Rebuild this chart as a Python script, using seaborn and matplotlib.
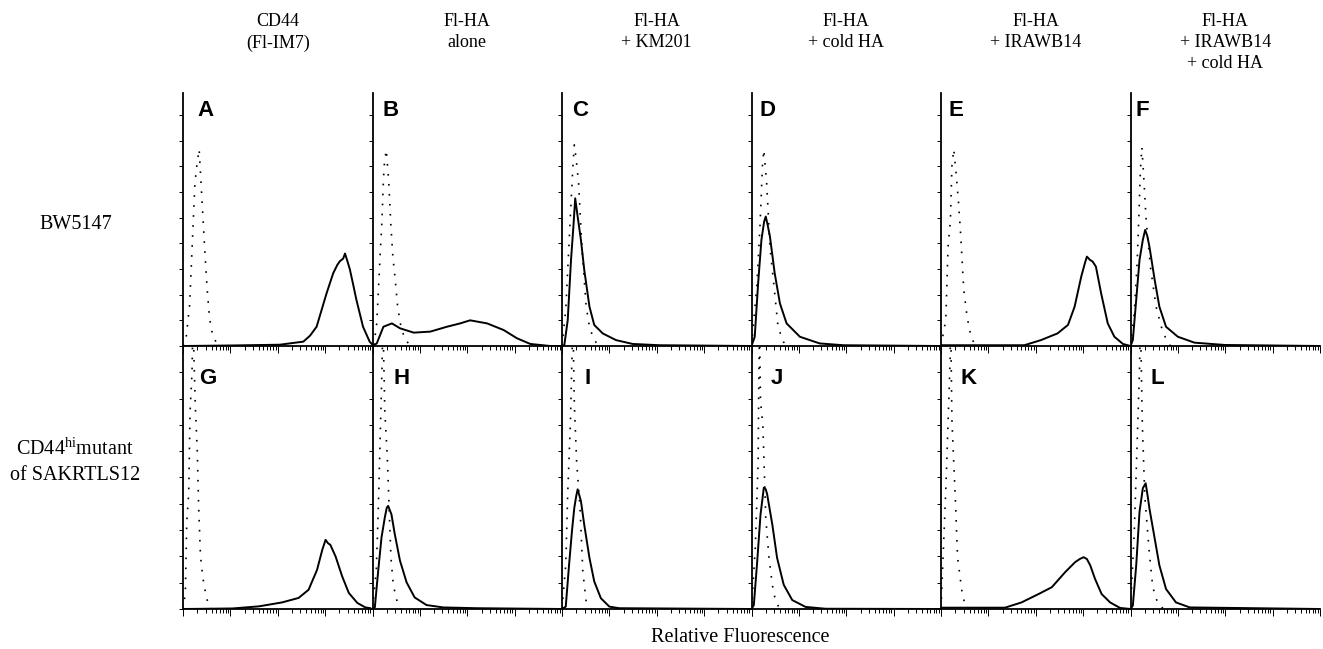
import numpy as np
import pandas as pd
import matplotlib.pyplot as plt
import matplotlib.ticker as mticker
import seaborn as sns

# Column headers / panel letters
headers = ["CD44\n(Fl-IM7)", "Fl-HA\nalone", "Fl-HA\n+ KM201",
           "Fl-HA\n+ cold HA", "Fl-HA\n+ IRAWB14", "Fl-HA\n+ IRAWB14\n+ cold HA"]
row_labels = ["BW5147", "of SAKRTLS12"]
letters = list("ABCDEFGHIJKL")

# Histograms: fluorescence (log axis) vs. cell count (tick units)
# *_fl / *_cnt = stained sample (solid), *_cfl / *_ccnt = control (dotted)
A_fl = [1, 10, 110, 347, 479, 661, 1072, 1479, 1800, 2042, 2400, 2630, 2900, 3311, 3900, 4571, 6310, 8710, 10000]
A_cnt = [0, 0.02, 0.05, 0.17, 0.4, 0.75, 2.05, 2.83, 3.15, 3.3, 3.4, 3.6, 3.35, 3.0, 2.4, 1.8, 0.75, 0.17, 0.05]
A_cfl = [1, 1.17, 1.38, 1.78, 1.95, 2.19, 2.88, 3.24, 3.63, 4.27, 5.5]
A_ccnt = [0, 0.36, 1.6, 6.3, 7.0, 7.66, 3.74, 2.2, 1.08, 0.36, 0.04]

B_fl = [1, 1.23, 1.7, 2.57, 3.8, 7.41, 16.6, 37.2, 70.8, 115, 263, 589, 1122, 2138, 5623, 10000]
B_cnt = [0, 0.1, 0.75, 0.88, 0.69, 0.52, 0.56, 0.75, 0.88, 1.0, 0.88, 0.62, 0.3, 0.08, 0, 0]
B_cfl = [1.07, 1.23, 1.45, 1.58, 1.7, 1.78, 1.95, 2.19, 2.45, 2.69, 3.02, 3.39, 3.98, 4.9, 6.31]
B_ccnt = [0.04, 0.88, 3.55, 4.84, 6.47, 7.1, 7.64, 6.47, 4.65, 3.48, 2.57, 1.53, 0.75, 0.23, 0.04]

C_fl = [1, 1.12, 1.32, 1.55, 1.74, 1.9, 2.14, 2.51, 2.95, 3.8, 4.79, 7.24, 13.8, 30.9, 115, 10000]
C_cnt = [0, 0.04, 1.0, 3.35, 4.65, 5.75, 5.04, 4.13, 2.96, 1.53, 0.82, 0.49, 0.23, 0.08, 0.03, 0]
C_cfl = [1, 1.2, 1.55, 1.7, 1.82, 2.0, 2.24, 2.63, 3.24, 3.8, 4.47, 5.62]
C_ccnt = [0, 1.4, 5.56, 7.0, 7.83, 7.25, 6.34, 3.87, 1.53, 0.75, 0.36, 0.04]

D_fl = [1, 1.17, 1.38, 1.62, 1.85, 2.0, 2.2, 2.45, 3.09, 3.98, 5.5, 10.5, 27.5, 87.1, 10000]
D_cnt = [0, 0.36, 2.44, 4.13, 4.85, 5.04, 4.7, 4.26, 2.83, 1.66, 0.88, 0.36, 0.1, 0.03, 0]
D_cfl = [1, 1.29, 1.51, 1.7, 1.82, 2.09, 2.45, 3.09, 3.63, 4.68, 5.5]
D_ccnt = [0, 2.3, 4.65, 7.0, 7.64, 6.34, 3.87, 2.05, 0.75, 0.17, 0.02]

E_fl = [1, 57.5, 129, 288, 479, 661, 912, 1100, 1202, 1400, 1585, 1862, 2399, 3311, 4571, 6918, 9550]
E_cnt = [0.03, 0.03, 0.23, 0.49, 0.82, 1.53, 2.7, 3.25, 3.48, 3.35, 3.29, 3.09, 2.05, 0.88, 0.36, 0.08, 0.01]
E_cfl = [1, 1.26, 1.41, 1.58, 1.7, 1.86, 2.09, 2.34, 2.57, 3.02, 3.55, 4.27, 5.01, 5.8]
E_ccnt = [0, 1.0, 3.87, 4.9, 7.0, 7.66, 6.7, 5.6, 4.5, 2.2, 1.14, 0.39, 0.1, 0]

F_fl = [1, 1.12, 1.32, 1.55, 1.82, 2.04, 2.25, 2.51, 3.24, 4.07, 5.62, 10, 22.4, 97.7, 10000]
F_cnt = [0, 0.23, 1.8, 3.35, 4.13, 4.52, 4.3, 3.87, 2.57, 1.53, 0.75, 0.36, 0.13, 0.04, 0]
F_cfl = [1, 1.2, 1.38, 1.51, 1.62, 1.74, 1.9, 2.14, 2.63, 3.47, 4.47, 5.89, 7]
F_ccnt = [0, 1.27, 3.22, 5.17, 6.86, 7.74, 6.6, 4.9, 3.09, 1.53, 0.75, 0.17, 0]

G_fl = [1, 11, 39.8, 123, 275, 447, 676, 871, 1023, 1150, 1288, 1660, 2291, 3162, 4786, 7079, 9120]
G_cnt = [0, 0.02, 0.1, 0.25, 0.42, 0.73, 1.49, 2.25, 2.63, 2.5, 2.44, 2.0, 1.24, 0.61, 0.23, 0.06, 0.03]
G_cfl = [1, 1.12, 1.2, 1.32, 1.41, 1.55, 1.62, 1.82, 2.0, 2.14, 2.34, 2.63, 2.95, 3.47, 4]
G_ccnt = [0, 0.6, 3.3, 4.4, 7.5, 9.0, 11, 7.7, 6.0, 3.9, 2.0, 1.18, 0.67, 0.1, 0]

H_fl = [1, 1.12, 1.32, 1.55, 1.82, 2.0, 2.14, 2.51, 2.95, 3.8, 5.25, 7.76, 13.8, 30.9, 158, 10000]
H_cnt = [0, 0.06, 1.46, 2.72, 3.48, 3.85, 3.92, 3.6, 2.85, 1.84, 1.01, 0.44, 0.15, 0.06, 0.03, 0]
H_cfl = [1, 1.2, 1.32, 1.58, 1.66, 1.82, 2.04, 2.45, 2.75, 3.47, 4]
H_ccnt = [0, 1.46, 3.7, 9.0, 11, 7.5, 5.9, 1.96, 0.9, 0.13, 0]

I_fl = [1, 1.2, 1.41, 1.62, 1.82, 2.0, 2.14, 2.51, 2.95, 3.8, 4.79, 6.61, 10, 16.2, 10000]
I_cnt = [0, 0.09, 1.68, 2.95, 3.85, 4.3, 4.55, 4.1, 3.2, 1.94, 1.05, 0.41, 0.09, 0.03, 0]
I_cfl = [1, 1.2, 1.32, 1.5, 1.62, 1.7, 1.82, 2.04, 2.4, 2.75, 3.24, 4]
I_ccnt = [0, 1.68, 4.4, 7.0, 9.5, 11, 7.8, 5.57, 3.85, 1.43, 0.28, 0]

J_fl = [1, 1.12, 1.32, 1.55, 1.82, 2.0, 2.14, 2.75, 3.47, 4.79, 7.24, 13.8, 36.3, 10000]
J_cnt = [0, 0.15, 1.81, 3.59, 4.61, 4.55, 4.36, 3.21, 1.94, 0.92, 0.34, 0.08, 0.01, 0]
J_cfl = [1, 1.2, 1.38, 1.43, 1.48, 1.55, 1.74, 2.0, 2.34, 2.75, 3.24, 4]
J_ccnt = [0, 2.3, 5.6, 9.0, 10.5, 7.9, 6.97, 3.46, 1.94, 0.92, 0.28, 0]

K_fl = [1, 22.4, 50.1, 115, 219, 417, 676, 850, 1023, 1200, 1413, 1778, 2455, 3715, 6026, 10000]
K_cnt = [0.05, 0.05, 0.25, 0.57, 0.83, 1.4, 1.78, 1.9, 1.97, 1.9, 1.66, 1.15, 0.57, 0.25, 0.04, 0]
K_cfl = [1, 1.26, 1.55, 1.6, 1.7, 2.0, 2.24, 2.75, 3.09, 4]
K_ccnt = [0, 4.5, 9.3, 11, 7.2, 4.25, 1.95, 0.7, 0.28, 0]

L_fl = [1, 1.12, 1.32, 1.55, 1.82, 2.09, 2.3, 2.51, 3.24, 4.07, 5.62, 9.12, 17.8, 10000]
L_cnt = [0, 0.13, 1.66, 3.69, 4.59, 4.78, 4.3, 3.82, 2.68, 1.66, 0.76, 0.25, 0.06, 0]
L_cfl = [1, 1.2, 1.32, 1.55, 1.62, 1.78, 2.0, 2.45, 2.95, 3.8, 5]
L_ccnt = [0, 2.9, 5.2, 9.1, 11, 7.0, 4.3, 2.3, 0.83, 0.19, 0]

panels = [
    (A_fl, A_cnt, A_cfl, A_ccnt), (B_fl, B_cnt, B_cfl, B_ccnt), (C_fl, C_cnt, C_cfl, C_ccnt),
    (D_fl, D_cnt, D_cfl, D_ccnt), (E_fl, E_cnt, E_cfl, E_ccnt), (F_fl, F_cnt, F_cfl, F_ccnt),
    (G_fl, G_cnt, G_cfl, G_ccnt), (H_fl, H_cnt, H_cfl, H_ccnt), (I_fl, I_cnt, I_cfl, I_ccnt),
    (J_fl, J_cnt, J_cfl, J_ccnt), (K_fl, K_cnt, K_cfl, K_ccnt), (L_fl, L_cnt, L_cfl, L_ccnt),
]

sns.set_style("ticks")
plt.rcParams['font.family'] = ['Liberation Serif', 'DejaVu Serif']
plt.rcParams['text.color'] = 'black'

W, H = 1323, 649
fig = plt.figure(figsize=(W / 100, H / 100), dpi=100)

# layout in pixels
x0, pw = 183, 189.5
rows_px = [(93, 346), (347, 609)]
letter_dx = [14, 10, 10, 8, 7, 5, 16, 21, 23, 19, 19, 20]
letter_dy = [18, 32]

for i, (fl, cnt, cfl, ccnt) in enumerate(panels):
    r, c = divmod(i, 6)
    top, bot = rows_px[r]
    left = x0 + c * pw
    ax = fig.add_axes([left / W, 1 - bot / H, pw / W, (bot - top) / H])
    ax.set_facecolor('none')

    sns.lineplot(x=fl, y=cnt, ax=ax, color='black', linewidth=1.4,
                 estimator=None, sort=False)
    sns.lineplot(x=cfl, y=ccnt, ax=ax, color='black', linewidth=1.2,
                 linestyle=(0, (1, 5)), estimator=None, sort=False)

    ax.set_xscale('log')
    ax.set_xlim(1, 1e4)
    ax.set_ylim(0, 9.85 if r == 0 else 9.96)
    ax.set_yticks(range(0, 10))
    ax.xaxis.set_major_locator(mticker.LogLocator(base=10, numticks=10))
    ax.xaxis.set_minor_locator(mticker.LogLocator(base=10, subs=np.arange(2, 10), numticks=10))
    ax.tick_params(axis='both', which='both', direction='out', labelbottom=False,
                   labelleft=False, width=0.7, color='black')
    ax.tick_params(axis='x', which='major', length=5)
    ax.tick_params(axis='x', which='minor', length=3)
    ax.tick_params(axis='y', length=3)
    ax.set_xlabel('')
    ax.set_ylabel('')
    for s in ['top', 'right']:
        ax.spines[s].set_visible(False)
    for s in ['left', 'bottom']:
        ax.spines[s].set_linewidth(1.3)
        ax.spines[s].set_color('black')

    ax.annotate(letters[i], xy=(0, 1), xycoords='axes fraction',
                xytext=(letter_dx[i], -letter_dy[r]), textcoords='offset pixels',
                ha='left', va='center', fontsize=16, fontweight='bold',
                family='Liberation Sans', color='black')

    if r == 0:
        fig.text((left + pw / 2) / W, 1 - 13 / H, headers[c], ha='center', va='top',
                 fontsize=13, linespacing=1.32)

# row labels
fig.text(76 / W, 1 - 225 / H, row_labels[0], ha='center', va='center', fontsize=14.5)
fig.text(75 / W, 1 - 449 / H, r"CD44$^{\mathregular{hi}}$mutant", ha='center', va='center', fontsize=14.5)
fig.text(75 / W, 1 - 475 / H, row_labels[1], ha='center', va='center', fontsize=14.5)

fig.text(740 / W, 1 - 638 / H, "Relative Fluorescence", ha='center', va='center', fontsize=14.5)

plt.savefig('out.png', dpi=100)
